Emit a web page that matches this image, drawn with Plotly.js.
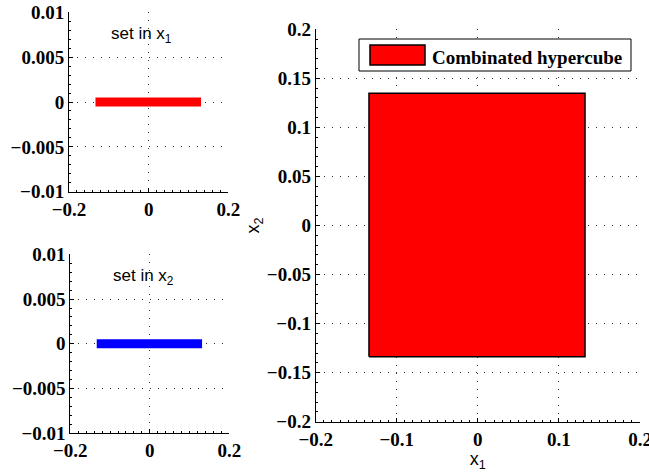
<!DOCTYPE html>
<html>
<head>
<meta charset="utf-8">
<script src="https://cdn.plot.ly/plotly-3.0.1.min.js"></script>
<style>html,body{margin:0;padding:0;background:#fff;}#chart{width:649px;height:475px;}</style>
</head>
<body>
<div id="chart"></div>
<script>
// ---- data ----
const setX1Range = [-0.1335, 0.1315];   // interval of the set in x1
const setX1Level = [0, 0];
const setX2Range = [-0.1335, 0.1315];   // interval of the set in x2
const setX2Level = [0, 0];
const cubeX = [-0.1343, 0.1322];        // combined hypercube, x1 extent
const cubeY = [-0.1337, 0.1348];        // combined hypercube, x2 extent
const legendLabel = 'Combinated hypercube';
const label1 = 'set in x<sub>1</sub>';
const label2 = 'set in x<sub>2</sub>';

// tick values and labels
const smallXTicks = [-0.2, 0, 0.2];
const smallXLabels = ['\u22120.2', '0', '0.2'];
const smallYTicks = [-0.01, -0.005, 0, 0.005, 0.01];
const smallYLabels = ['\u22120.01', '\u22120.005', '0', '0.005', '0.01'];
const bigXTicks = [-0.2, -0.1, 0, 0.1, 0.2];
const bigXLabels = ['\u22120.2', '\u22120.1', '0', '0.1', '0.2'];
const bigYTicks = [-0.2, -0.15, -0.1, -0.05, 0, 0.05, 0.1, 0.15, 0.2];
const bigYLabels = ['\u22120.2', '\u22120.15', '\u22120.1', '\u22120.05', '0', '0.05', '0.1', '0.15', '0.2'];

const W = 649, H = 475;
const px = v => v / W;
const py = v => 1 - v / H;
const bold = arr => arr.map(s => '<b>' + s + '</b>');

const tickFont = {family: 'Liberation Serif', size: 19, color: '#000'};
const gridDash = '1px,7px';

function baseAxis(extra) {
  return Object.assign({
    showline: true, linecolor: '#000', linewidth: 1, mirror: false,
    ticks: 'inside', ticklen: 4, tickcolor: '#000',
    showgrid: true, gridcolor: '#333', gridwidth: 1, griddash: gridDash,
    zeroline: false, tickfont: tickFont, fixedrange: true, tickmode: 'array',
    ticklabeloverflow: 'allow',
  }, extra);
}

const traces = [
  {x: setX1Range, y: setX1Level, xaxis: 'x', yaxis: 'y', mode: 'lines',
   line: {color: '#ff0000', width: 9}, showlegend: false, hoverinfo: 'skip'},
  {x: setX2Range, y: setX2Level, xaxis: 'x2', yaxis: 'y2', mode: 'lines',
   line: {color: '#0000ff', width: 9}, showlegend: false, hoverinfo: 'skip'},
  {x: [cubeX[0], cubeX[1], cubeX[1], cubeX[0], cubeX[0]],
   y: [cubeY[0], cubeY[0], cubeY[1], cubeY[1], cubeY[0]],
   xaxis: 'x3', yaxis: 'y3', mode: 'lines', fill: 'toself', fillcolor: '#ff0000',
   line: {color: '#000', width: 1.5}, name: legendLabel, showlegend: false, hoverinfo: 'skip'}
];

const axTitleFont = {family: 'Liberation Sans', size: 18, color: '#000'};

const layout = {
  width: W, height: H,
  margin: {l: 0, r: 0, t: 0, b: 0},
  paper_bgcolor: '#fff', plot_bgcolor: '#fff',
  showlegend: false,
  xaxis: baseAxis({domain: [px(69), px(228.3)], range: [-0.2, 0.2], anchor: 'y',
    tickvals: smallXTicks, ticktext: bold(smallXLabels),
    minor: {ticks: 'inside', ticklen: 2, dtick: 0.02, tickcolor: '#000', showgrid: false}}),
  yaxis: baseAxis({domain: [py(191.7), py(12.3)], range: [-0.01, 0.01], anchor: 'x',
    tickvals: smallYTicks, ticktext: bold(smallYLabels),
    minor: {ticks: 'inside', ticklen: 2, dtick: 0.001, tickcolor: '#000', showgrid: false}}),
  xaxis2: baseAxis({domain: [px(70.3), px(229.3)], range: [-0.2, 0.2], anchor: 'y2',
    tickvals: smallXTicks, ticktext: bold(smallXLabels),
    minor: {ticks: 'inside', ticklen: 2, dtick: 0.02, tickcolor: '#000', showgrid: false}}),
  yaxis2: baseAxis({domain: [py(433.3), py(254.3)], range: [-0.01, 0.01], anchor: 'x2',
    tickvals: smallYTicks, ticktext: bold(smallYLabels),
    minor: {ticks: 'inside', ticklen: 2, dtick: 0.001, tickcolor: '#000', showgrid: false}}),
  xaxis3: baseAxis({domain: [px(315.7), px(640)], range: [-0.2, 0.2], anchor: 'y3',
    tickvals: bigXTicks, ticktext: bold(bigXLabels),
    minor: {ticks: 'inside', ticklen: 2, dtick: 0.01, tickcolor: '#000', showgrid: false},
    title: {text: 'x<sub>1</sub>', font: axTitleFont, standoff: 3}}),
  yaxis3: baseAxis({domain: [py(421.7), py(29.3)], range: [-0.2, 0.2], anchor: 'x3',
    tickvals: bigYTicks, ticktext: bold(bigYLabels),
    minor: {ticks: 'inside', ticklen: 2, dtick: 0.01, tickcolor: '#000', showgrid: false},
    title: {text: 'x<sub>2</sub>', font: axTitleFont, standoff: 2}}),
  shapes: [
    {type: 'rect', xref: 'paper', yref: 'paper', x0: px(359), x1: px(631), y0: py(71), y1: py(39),
     line: {color: '#000', width: 1}, fillcolor: '#fff', layer: 'above'},
    {type: 'rect', xref: 'paper', yref: 'paper', x0: px(370), x1: px(425), y0: py(65), y1: py(45),
     line: {color: '#000', width: 1.5}, fillcolor: '#ff0000', layer: 'above'}
  ],
  annotations: [
    {xref: 'paper', yref: 'paper', x: px(430), y: py(57), xanchor: 'left', yanchor: 'middle',
     text: '<b>' + legendLabel + '</b>', showarrow: false,
     font: {family: 'Liberation Serif', size: 19, color: '#000'}},
    {xref: 'x', yref: 'y', x: -0.017, y: 0.0075, text: label1, showarrow: false,
     font: {family: 'Liberation Sans', size: 17, color: '#000'}},
    {xref: 'x2', yref: 'y2', x: -0.017, y: 0.0075, text: label2, showarrow: false,
     font: {family: 'Liberation Sans', size: 17, color: '#000'}}
  ]
};

Plotly.newPlot('chart', traces, layout, {displayModeBar: false, staticPlot: true});
</script>
</body>
</html>
